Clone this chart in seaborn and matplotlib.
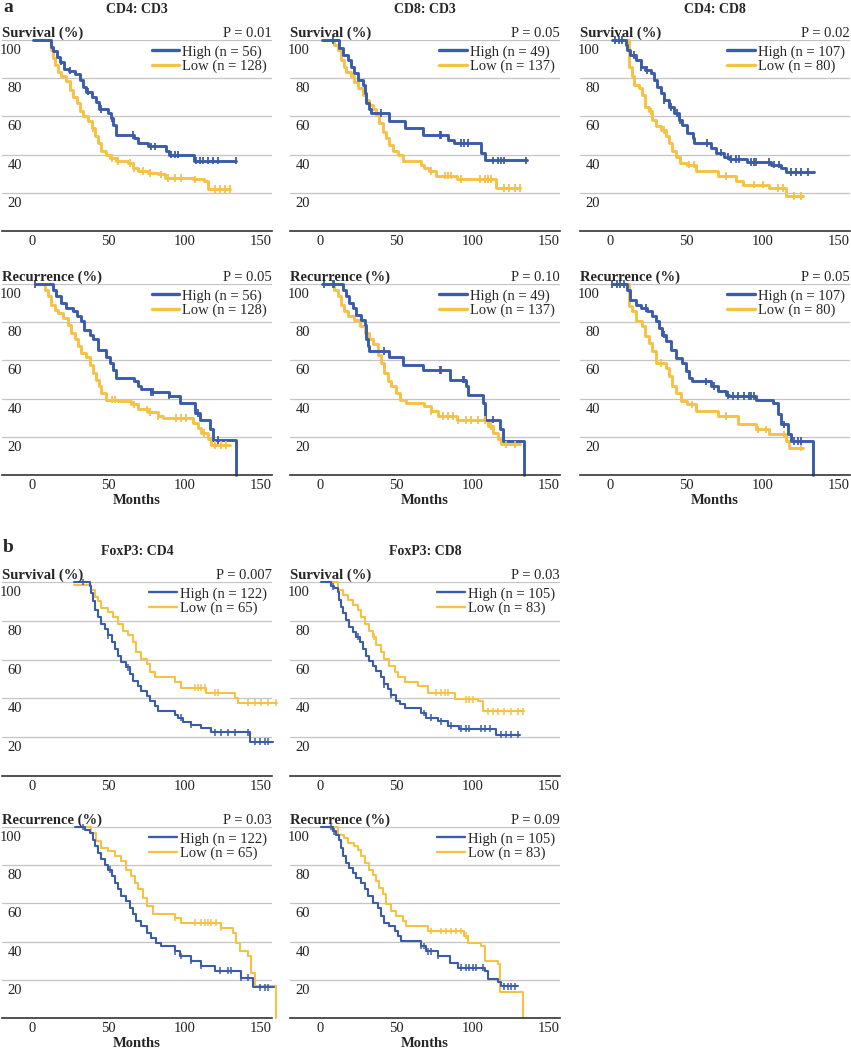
import matplotlib
matplotlib.use("Agg")
import matplotlib.pyplot as plt
import matplotlib.transforms as mtransforms
from matplotlib.lines import Line2D
import numpy as np
import pandas as pd
import seaborn as sns

# ---- step data: event times (months) and % after each step ----
# a) CD4:CD3
CD4CD3_OS_HIGH_T = [0.5, 12, 13.5, 16, 18, 21, 24, 28, 31, 33, 35.5, 39, 42, 44, 50, 51.5, 53, 55, 67, 69.4, 76, 88, 90, 106, 134]
CD4CD3_OS_HIGH_S = [100, 96.5, 94, 91, 88.7, 85, 84, 82, 79, 75.6, 73, 70.4, 67.8, 64, 61.7, 59, 55.7, 50.4, 48.7, 46, 44.3, 41.7, 40, 36.9, 36.9]
CD4CD3_OS_HIGH_C = [19, 25, 36.6, 45.3, 52, 66, 78, 80.4, 91.3, 93.5, 95.7, 107.7, 110, 112, 115.4, 118.7, 122, 134]
CD4CD3_OS_LOW_T = [5, 12.5, 13.6, 14.7, 16.9, 19, 22, 24.5, 26.7, 29, 31, 33, 36.6, 39, 41, 43, 45, 48.6, 51, 55, 63, 66, 69.4, 76, 82.5, 87, 105.5, 113, 115.4, 129.6]
CD4CD3_OS_LOW_S = [100, 94.8, 90.4, 87, 83.5, 80.9, 78.3, 74, 70.4, 67, 62.6, 60, 57.4, 54, 49.6, 46, 41.7, 40, 38.3, 36.5, 35.7, 33, 31.3, 30.4, 29.6, 27.8, 27, 26, 22, 22]
CD4CD3_OS_LOW_C = [40, 52, 56.3, 64, 66.5, 72.7, 77, 84.7, 89, 93.5, 98, 106.6, 119.8, 123, 126.3, 129.6]

CD4CD3_RFS_HIGH_T = [1.5, 13.3, 15.8, 19, 22, 26.7, 29, 32, 34, 37.7, 40, 43, 48.6, 51, 53, 55, 67, 69.4, 71.6, 78, 90, 97, 106.6, 110, 116.5, 118.7, 134]
CD4CD3_RFS_HIGH_S = [100, 97, 93.5, 90, 87.5, 85.7, 83, 80.5, 76, 73.5, 71, 65.7, 62, 58.7, 55, 51, 49, 46.5, 44.8, 43.4, 41.6, 37.8, 32.6, 29, 24, 18.3, 0]
CD4CD3_RFS_HIGH_C = [1.5, 78, 79, 90, 108.8, 122]
CD4CD3_RFS_LOW_T = [5, 8, 10, 12.5, 14.7, 17, 20, 23.4, 25.6, 27.8, 30, 32, 35.5, 37.7, 40, 42, 44, 45.3, 48.6, 56, 65, 69.4, 76, 82.5, 86, 105.5, 108.8, 111, 115.4, 117.6, 129.6]
CD4CD3_RFS_LOW_S = [100, 97, 93.5, 89, 86.6, 85, 82, 78.7, 74.4, 71, 67.4, 64, 62, 57.8, 53.5, 50, 46.5, 43, 39.5, 38.7, 37, 34.3, 33, 31, 30, 27.4, 24.7, 22, 18.6, 15.7, 15.7]
CD4CD3_RFS_LOW_C = [52, 54, 67, 75, 77, 82.5, 94.6, 98, 101, 113, 120, 124, 127]

# a) CD8:CD3
CD8CD3_OS_HIGH_T = [1, 12.5, 14.7, 18, 20, 22.4, 24.6, 27.8, 29, 30, 32, 33.3, 45.4, 55.3, 67.3, 83.8, 88, 105.7, 108, 136]
CD8CD3_OS_HIGH_S = [100, 95.7, 92, 89.6, 86, 82.6, 79, 76.5, 72, 67, 64, 61.7, 57.4, 54, 50.4, 47.8, 46, 41, 37, 37]
CD8CD3_OS_HIGH_C = [8.1, 40, 78.3, 79.4, 92.5, 94.7, 97, 113.4, 116.7, 118.9, 121, 135]
CD8CD3_OS_LOW_T = [2, 9, 11.4, 13.6, 15.4, 17, 20, 22.4, 24.6, 27.8, 30, 32, 34.4, 36.6, 38.8, 41, 43.2, 45.4, 47.6, 51, 54, 66, 68.4, 71.7, 76, 90, 115.6, 131]
CD8CD3_OS_LOW_S = [100, 97.4, 94.8, 89.6, 86, 83.5, 81, 78, 74.8, 71.3, 68.7, 66, 64, 60.8, 56.5, 52, 48.7, 45, 41.7, 40, 36.5, 34.8, 33, 31.3, 29, 27.3, 22.6, 22.6]
CD8CD3_OS_LOW_C = [72.8, 81.6, 83.8, 86, 92.5, 104.6, 108, 110, 112.3, 121, 124.3, 127.6, 131]

CD8CD3_RFS_HIGH_T = [1, 14.7, 17, 19, 21.3, 23.5, 26.8, 29, 30, 31, 32, 45.4, 54, 67.3, 85, 96, 97, 106.8, 108, 117.8, 120, 134]
CD8CD3_RFS_HIGH_S = [100, 97, 93.5, 90, 87.5, 84, 81.4, 78.7, 71, 67.4, 64.8, 62, 57.8, 55, 50, 46.5, 42, 37.8, 29, 24, 17.8, 0]
CD8CD3_RFS_HIGH_C = [2.6, 8.1, 9.2, 42, 78.3, 79.4, 93.6, 94.7, 113.4]
CD8CD3_RFS_LOW_T = [2, 9, 11.4, 13.6, 15.8, 18, 22.4, 25.7, 29, 32, 34.4, 38, 40, 42, 44.3, 46.5, 49.8, 52, 56.4, 68.4, 72.8, 77, 90, 110, 113.4, 116.7, 119, 131]
CD8CD3_RFS_LOW_S = [100, 97, 93.5, 89, 85.7, 83, 81.4, 77.9, 74.4, 71, 68.4, 63, 58.7, 53.5, 49, 46.5, 43, 39.5, 37.8, 36, 33.4, 30.8, 28.7, 25.6, 22, 18.6, 16, 16]
CD8CD3_RFS_LOW_C = [72.8, 80.5, 83.8, 87, 90.4, 95.8, 99, 103.5, 108, 112.3, 122, 127.6]

# a) CD4:CD8
CD4CD8_OS_HIGH_T = [1, 10, 11, 13, 16.5, 19.8, 23, 26.4, 28.6, 30.8, 33, 35, 38.5, 41.8, 45, 47.3, 50.6, 54, 55, 66, 69.3, 74.8, 78, 90, 105.6, 112, 115.5, 134]
CD4CD8_OS_HIGH_S = [100, 97.4, 94.8, 92, 89.6, 86, 84.3, 82.6, 79, 75.6, 72, 68.7, 65, 61.7, 58, 55.6, 51.3, 48.7, 46, 43.5, 41, 39, 37.7, 36, 34.8, 33, 31, 31]
CD4CD8_OS_HIGH_C = [3.3, 5.5, 7.7, 15.4, 19.8, 24.2, 35.2, 39.6, 44, 45.5, 63.8, 72.6, 77, 79.2, 82.5, 84.7, 92.4, 94.6, 95.7, 104.5, 107.8, 111, 118.8, 122, 125.4, 129.8]
CD4CD8_OS_LOW_T = [2, 12, 12.5, 14.3, 15.8, 18.7, 21, 23, 25.3, 27.5, 29.7, 33, 36.3, 38.5, 40.7, 43, 46, 50.6, 56, 70.4, 82.5, 86.9, 104.5, 115.5, 126.5]
CD4CD8_OS_LOW_S = [100, 90.4, 86, 81, 76.5, 74.8, 71.3, 65, 62.6, 58, 55, 53, 49.6, 46, 41.7, 39, 35.7, 34.8, 31.3, 28.7, 26, 24.3, 22.6, 18.3, 18.3]
CD4CD8_OS_LOW_C = [26.4, 35.2, 51.7, 55, 75.9, 94.6, 100, 110, 113.3, 121, 125.4]

CD4CD8_RFS_HIGH_T = [1, 11, 13, 16.5, 19.8, 24.2, 27.5, 29.7, 31.9, 34, 36.3, 39.6, 42.9, 47.3, 49.5, 51.7, 53.9, 66, 70.4, 75.9, 78, 95.7, 106.7, 110, 112, 116.6, 118.8, 133]
CD4CD8_RFS_HIGH_S = [100, 97, 91.8, 89, 87.5, 85.7, 83, 80.5, 77, 73.5, 70, 65.7, 61.3, 58.7, 54.4, 51, 49, 46.5, 44, 42, 41.3, 39.5, 37.8, 31.7, 26.5, 21.3, 17.8, 0]
CD4CD8_RFS_HIGH_C = [1.1, 4.4, 6.6, 8.8, 23.1, 35.2, 62.7, 68.2, 77, 80.3, 83.6, 88, 91.3, 92.4, 94.6, 114.4, 121, 123.2, 125.4]
CD4CD8_RFS_LOW_T = [2, 12, 12.5, 14.3, 16.5, 21, 23, 25.3, 27.5, 29.7, 36.3, 38.5, 40.7, 42.9, 46.2, 50.6, 56, 70.4, 83.6, 95.7, 104.5, 115.5, 117.7, 126.5]
CD4CD8_RFS_LOW_S = [100, 90, 88.3, 85.7, 80.5, 77.9, 72.6, 69, 64.8, 58.7, 56, 51.7, 46.5, 43, 38.7, 37, 33.4, 30.8, 26.5, 23.9, 21.3, 17.8, 14.3, 14.3]
CD4CD8_RFS_LOW_C = [33, 53.9, 75.9, 96.8, 102.3, 114.4, 125.4]

# b) FoxP3:CD4
FOXCD4_OS_HIGH_T = [27.4, 37.7, 38.8, 39.9, 41, 43, 45.3, 47.5, 49.7, 52, 54, 56.3, 58.5, 61.7, 64, 66, 69.4, 71.6, 75, 77, 80.4, 82.5, 93.5, 95.7, 99, 104.4, 111, 117.6, 142.8, 158]
FOXCD4_OS_HIGH_S = [100, 97.7, 94.3, 90, 85.6, 82, 78.6, 76, 72.5, 69, 65.6, 62, 58.6, 56, 52.5, 49, 46.4, 43.8, 41.2, 38.6, 36, 33.4, 31.7, 30, 28, 26.4, 24.7, 22.6, 17.7, 17.7]
FOXCD4_OS_HIGH_C = [33.3, 49.7, 62.8, 97.9, 104.4, 119.8, 124.2, 128.5, 133, 141.7, 146, 149.3, 152.6, 154.8]
FOXCD4_OS_LOW_T = [27.4, 38.8, 41, 43, 45.3, 49.7, 53, 56.3, 59.6, 62.8, 66, 68.3, 71.6, 75, 77, 80.4, 93.5, 97.9, 114.3, 132.9, 135, 161]
FOXCD4_OS_LOW_S = [98.3, 96, 92.5, 90, 86.4, 84.7, 82, 78.6, 75, 72.5, 69, 63.8, 60.3, 57.7, 53.4, 50.8, 48.2, 45.6, 43, 40.3, 37.7, 37.7]
FOXCD4_OS_LOW_C = [106.6, 108.8, 111, 113.2, 119.8, 122, 141.7, 146, 150.4, 154.8, 160.3]

FOXCD4_RFS_HIGH_T = [27.8, 34.4, 37.7, 39.9, 41, 43, 45.3, 47.5, 49.7, 52, 54, 56.3, 58.5, 61.7, 64, 66, 68.3, 71.6, 75, 78, 81.5, 84.7, 93.5, 96.8, 104.4, 111, 119.8, 137.3, 145, 159]
FOXCD4_RFS_HIGH_S = [100, 98.6, 96.9, 93.4, 90, 86.4, 83, 80.3, 77.7, 74.3, 70.8, 67.3, 63.8, 61.2, 57.7, 54.3, 50.8, 48.2, 44.7, 42, 39.5, 37.7, 35, 32.5, 29.9, 27.3, 24.7, 21.2, 16, 16]
FOXCD4_RFS_HIGH_C = [33.3, 50.8, 93.5, 97.9, 104.4, 111, 123, 128.5, 130.7, 137.3, 141.7, 149.3, 152.6, 154.8]
FOXCD4_RFS_LOW_T = [33, 38.8, 42, 45.3, 49.7, 54, 58.5, 61.7, 65, 67.2, 69.4, 72.7, 75, 79.3, 93.5, 97.9, 124, 131.8, 134, 136.2, 141.7, 143.9, 146, 160]
FOXCD4_RFS_LOW_S = [100, 96.9, 92.5, 89, 87.3, 84.7, 82, 77.7, 74.3, 70.8, 67.3, 63, 58.6, 54.3, 52.5, 50, 47.3, 44.7, 39.5, 35, 32.5, 23.8, 16.5, 0]
FOXCD4_RFS_LOW_C = [93.5, 106.6, 111, 113.2, 115.4, 117.6, 120.9, 124.2]

# b) FoxP3:CD8
FOXCD8_OS_HIGH_T = [0.4, 7, 9.2, 11.4, 12.5, 13.6, 14.7, 16.9, 19, 21.3, 23.5, 25.7, 27.8, 30, 32.2, 34.4, 36.6, 40, 42, 44.3, 46.5, 49.8, 52, 55.3, 66.2, 69.6, 77.2, 83.8, 91.4, 115.6, 131]
FOXCD8_OS_HIGH_S = [100, 97.7, 96.9, 95, 90.8, 87.3, 83.8, 80.3, 76.9, 74.3, 71.7, 69, 65.6, 62, 59.5, 56.9, 54.3, 50.8, 47.3, 44.7, 42, 38.6, 36.9, 35, 32.5, 30, 28.2, 26, 24.3, 21.2, 21.2]
FOXCD8_OS_HIGH_C = [8.1, 24.6, 42.1, 46.5, 68.4, 72.8, 79.4, 86, 92.5, 95.8, 98, 105.7, 107.9, 111.2, 118.9, 122.1, 125.4, 129.8]
FOXCD8_OS_LOW_T = [5, 11.4, 14.7, 18, 21.3, 24.6, 26.8, 29, 32.2, 34.4, 36.6, 40, 42, 45.4, 48.7, 50.9, 55.3, 64, 70.6, 88.2, 103.5, 106.8, 134]
FOXCD8_OS_LOW_S = [100, 96, 93.4, 90.8, 88.2, 85.6, 82, 78.6, 75, 71.7, 67.3, 63.8, 60.3, 56.9, 53.4, 50.8, 48.2, 46.4, 43, 39.5, 38.6, 33.4, 33.4]
FOXCD8_OS_LOW_C = [35.5, 76.1, 79.4, 81.6, 83.8, 95.8, 98, 100.2, 110, 113.4, 116.7, 121, 125.4, 129.8, 133.1]

FOXCD8_RFS_HIGH_T = [0.4, 8.1, 10.3, 12.5, 13.6, 14.7, 16.9, 19, 21.3, 23.5, 26.8, 29, 31.1, 34.4, 37.7, 40, 42, 45.4, 48.7, 50.9, 53, 66.2, 69.6, 77.2, 84.9, 90.4, 107.9, 110, 116.7, 118.8, 129.8]
FOXCD8_RFS_HIGH_S = [100, 97.7, 96, 93.4, 89, 84.7, 81.2, 78.6, 76, 73.4, 70.8, 67.3, 63.8, 60.3, 57.7, 53.4, 50, 48.2, 45.6, 43, 40.3, 37.7, 35, 32.5, 29, 26.4, 24.7, 20.3, 18.6, 16.5, 16.5]
FOXCD8_RFS_HIGH_C = [7, 9.2, 66.2, 68.4, 70.6, 72.8, 77.2, 92.5, 95.8, 98, 100.2, 102.4, 106.8, 121, 123.2, 125.4, 127.6]
FOXCD8_RFS_LOW_T = [5, 11.4, 15.8, 18, 22.4, 24.6, 26.8, 29, 32.2, 34.4, 36.6, 38.8, 41, 43.2, 46.5, 49.8, 54.2, 56.4, 70.6, 94.7, 96.9, 105.7, 107.9, 116.7, 117.8, 133]
FOXCD8_RFS_LOW_S = [100, 96, 94.3, 91.7, 90, 88.2, 84.7, 81.2, 77.7, 75, 71.7, 68.2, 64.7, 59.5, 56, 53.4, 50.8, 48.2, 45.6, 43, 39.5, 37.7, 29.9, 28.2, 13.4, 0]
FOXCD8_RFS_LOW_C = [72.8, 79.4, 82.7, 86, 89.3, 92.5, 95.8]

X_TICKS = [0, 50, 100, 150]
Y_TICKS = [20, 40, 60, 80, 100]

BLUE = "#3b5ca9"
YELLOW = "#f6c246"

# row, col, title, y label, p value, n high, n low, high curve, low curve
PANELS = [
    (0, 0, "CD4: CD3", "Survival (%)", "P = 0.01", 56, 128,
     (CD4CD3_OS_HIGH_T, CD4CD3_OS_HIGH_S, CD4CD3_OS_HIGH_C), (CD4CD3_OS_LOW_T, CD4CD3_OS_LOW_S, CD4CD3_OS_LOW_C)),
    (1, 0, None, "Recurrence (%)", "P = 0.05", 56, 128,
     (CD4CD3_RFS_HIGH_T, CD4CD3_RFS_HIGH_S, CD4CD3_RFS_HIGH_C), (CD4CD3_RFS_LOW_T, CD4CD3_RFS_LOW_S, CD4CD3_RFS_LOW_C)),
    (0, 1, "CD8: CD3", "Survival (%)", "P = 0.05", 49, 137,
     (CD8CD3_OS_HIGH_T, CD8CD3_OS_HIGH_S, CD8CD3_OS_HIGH_C), (CD8CD3_OS_LOW_T, CD8CD3_OS_LOW_S, CD8CD3_OS_LOW_C)),
    (1, 1, None, "Recurrence (%)", "P = 0.10", 49, 137,
     (CD8CD3_RFS_HIGH_T, CD8CD3_RFS_HIGH_S, CD8CD3_RFS_HIGH_C), (CD8CD3_RFS_LOW_T, CD8CD3_RFS_LOW_S, CD8CD3_RFS_LOW_C)),
    (0, 2, "CD4: CD8", "Survival (%)", "P = 0.02", 107, 80,
     (CD4CD8_OS_HIGH_T, CD4CD8_OS_HIGH_S, CD4CD8_OS_HIGH_C), (CD4CD8_OS_LOW_T, CD4CD8_OS_LOW_S, CD4CD8_OS_LOW_C)),
    (1, 2, None, "Recurrence (%)", "P = 0.05", 107, 80,
     (CD4CD8_RFS_HIGH_T, CD4CD8_RFS_HIGH_S, CD4CD8_RFS_HIGH_C), (CD4CD8_RFS_LOW_T, CD4CD8_RFS_LOW_S, CD4CD8_RFS_LOW_C)),
    (2, 0, "FoxP3: CD4", "Survival (%)", "P = 0.007", 122, 65,
     (FOXCD4_OS_HIGH_T, FOXCD4_OS_HIGH_S, FOXCD4_OS_HIGH_C), (FOXCD4_OS_LOW_T, FOXCD4_OS_LOW_S, FOXCD4_OS_LOW_C)),
    (3, 0, None, "Recurrence (%)", "P = 0.03", 122, 65,
     (FOXCD4_RFS_HIGH_T, FOXCD4_RFS_HIGH_S, FOXCD4_RFS_HIGH_C), (FOXCD4_RFS_LOW_T, FOXCD4_RFS_LOW_S, FOXCD4_RFS_LOW_C)),
    (2, 1, "FoxP3: CD8", "Survival (%)", "P = 0.03", 105, 83,
     (FOXCD8_OS_HIGH_T, FOXCD8_OS_HIGH_S, FOXCD8_OS_HIGH_C), (FOXCD8_OS_LOW_T, FOXCD8_OS_LOW_S, FOXCD8_OS_LOW_C)),
    (3, 1, None, "Recurrence (%)", "P = 0.09", 105, 83,
     (FOXCD8_RFS_HIGH_T, FOXCD8_RFS_HIGH_S, FOXCD8_RFS_HIGH_C), (FOXCD8_RFS_LOW_T, FOXCD8_RFS_LOW_S, FOXCD8_RFS_LOW_C)),
]

# layout in pixels of the 851x1050 canvas
W, H = 851, 1050
COL_LEFT = [2, 290, 580]
AX_W = 270
ROW_TOP = [40, 284, 582, 827]
ROW_BOTTOM = [231, 475, 776, 1018]


def step_frame(times, levels, label):
    return pd.DataFrame({"months": times, "pct": levels, "group": label})


def censor_frame(times, levels, cens, label):
    t = np.asarray(times, dtype=float)
    s = np.asarray(levels, dtype=float)
    idx = np.searchsorted(t, cens, side="right") - 1
    return pd.DataFrame({"months": cens, "pct": s[idx], "group": label})


sns.set_theme(style="white")
plt.rcParams["font.family"] = ["Liberation Serif", "DejaVu Serif"]

fig = plt.figure(figsize=(W / 100, H / 100), dpi=100)

for row, col, title, ylab, pval, n_hi, n_lo, high, low in PANELS:
    panel_a = row < 2
    lw = 2.1 if panel_a else 1.5
    ax = fig.add_axes([COL_LEFT[col] / W, 1 - ROW_BOTTOM[row] / H,
                       AX_W / W, (ROW_BOTTOM[row] - ROW_TOP[row]) / H])

    lab_hi = f"High (n = {n_hi})"
    lab_lo = f"Low (n = {n_lo})"
    palette = {lab_hi: BLUE, lab_lo: YELLOW}
    order = [lab_lo, lab_hi]

    lines = pd.concat([step_frame(low[0], low[1], lab_lo),
                       step_frame(high[0], high[1], lab_hi)], ignore_index=True)
    cens = pd.concat([censor_frame(low[0], low[1], low[2], lab_lo),
                      censor_frame(high[0], high[1], high[2], lab_hi)], ignore_index=True)

    sns.lineplot(data=lines, x="months", y="pct", hue="group", hue_order=order,
                 palette=palette, estimator=None, sort=False, drawstyle="steps-post",
                 linewidth=lw, clip_on=False, legend=False, ax=ax)
    sns.scatterplot(data=cens, x="months", y="pct", hue="group", hue_order=order,
                    palette=palette, marker="|", s=30 if panel_a else 24,
                    linewidth=1.3 if panel_a else 1.1, clip_on=False, legend=False,
                    zorder=3, ax=ax)

    ax.set_xlim(-20, 157.5)
    ax.set_ylim(0, 100)
    ax.set_xticks(X_TICKS)
    ax.set_yticks(Y_TICKS)
    ax.grid(axis="y", color="#c4c4c4", linewidth=0.9)
    ax.grid(axis="x", visible=False)
    ax.set_axisbelow(True)
    ax.tick_params(axis="y", length=0, labelleft=False)
    ax.tick_params(axis="x", direction="in", length=5, width=1.1, color="#333333",
                   pad=3, labelsize=10.5, labelcolor="#222222")
    for side in ("top", "right", "left"):
        ax.spines[side].set_visible(False)
    ax.spines["bottom"].set_color("#333333")
    ax.spines["bottom"].set_linewidth(1.2)
    ax.set_ylabel("")
    if row in (1, 3):
        ax.set_xlabel("Months", fontweight="bold", fontsize=10.5, labelpad=1)
    else:
        ax.set_xlabel("")

    # y labels sit just under their gridline
    ytrans = mtransforms.offset_copy(ax.get_yaxis_transform(), fig=fig, y=-7.5, units="points")
    for v in Y_TICKS:
        ax.text(0.074, v, str(v), transform=ytrans, ha="right", va="center",
                fontsize=10.5, color="#222222")

    ax.set_title(ylab, loc="left", fontweight="bold", fontsize=10.5, pad=2)
    ax.set_title(pval, loc="right", fontsize=10.5, pad=2)
    if title:
        ax.annotate(title, xy=(0.5, 1), xycoords="axes fraction", xytext=(0, 22),
                    textcoords="offset points", ha="center", va="center",
                    fontweight="bold", fontsize=10)

    leg_lw = 2.4 if panel_a else 1.7
    handles = [Line2D([], [], color=BLUE, lw=leg_lw), Line2D([], [], color=YELLOW, lw=leg_lw)]
    ax.legend(handles, [lab_hi, lab_lo], loc="upper right", bbox_to_anchor=(1.0, 1.0),
              frameon=False, fontsize=10.5, handlelength=1.9, handletextpad=0.2,
              labelspacing=0.05, borderaxespad=0.15, borderpad=0.2)

fig.text(3 / W, 1 - 8 / H, "a", fontsize=14, fontweight="bold", ha="left", va="center")
fig.text(3 / W, 1 - 548 / H, "b", fontsize=14, fontweight="bold", ha="left", va="center")

fig.savefig("out.png", dpi=100)
plt.close(fig)
